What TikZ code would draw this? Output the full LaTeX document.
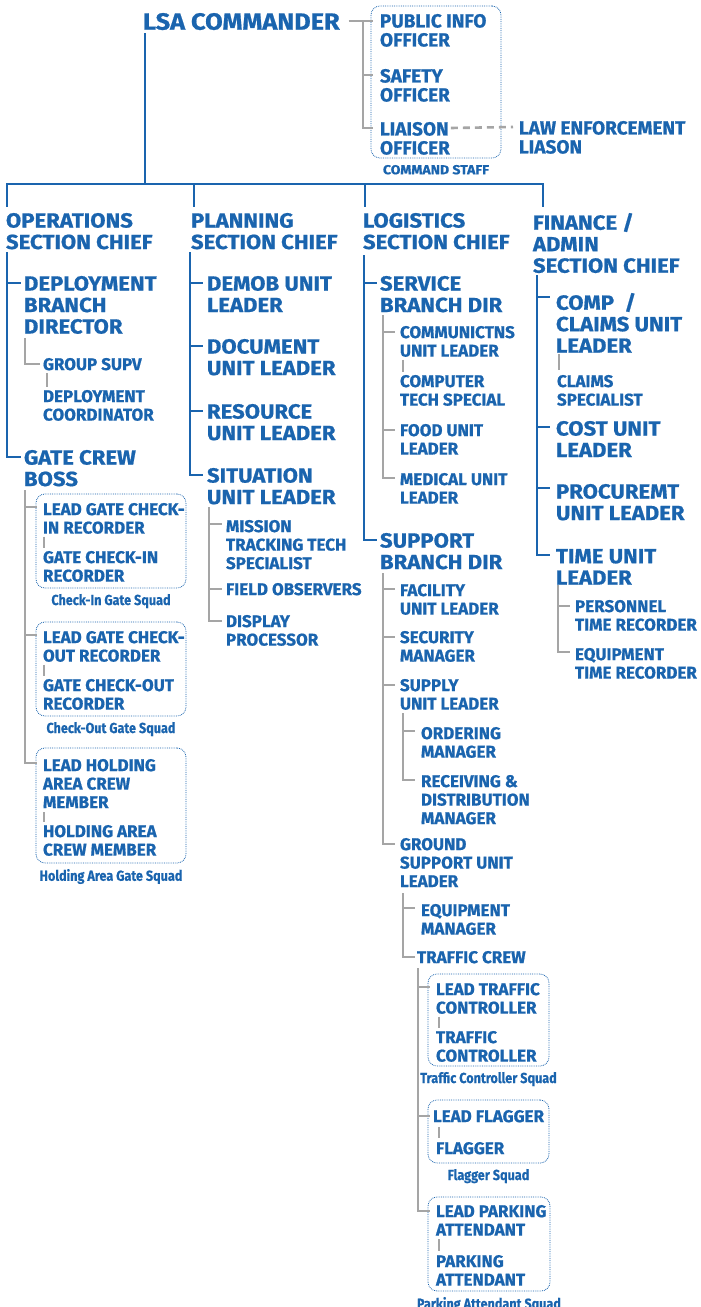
\documentclass[tikz,border=0pt]{standalone}
\usepackage{fontspec}
\setmainfont{Fira Sans}[FakeBold=0.8]
\newfontfamily\widefamily{Fira Sans}[FakeStretch=1.08, FakeBold=0.8]
\newfontfamily\squadfamily{Fira Sans}[FakeStretch=0.87, FakeBold=0.5]
\usetikzlibrary{positioning}

\definecolor{lsablue}{HTML}{1A64AE}
\definecolor{lsagray}{HTML}{A5A5A5}

\newcommand{\cmdrfont}{\widefamily\bfseries\fontsize{23.5}{26}\selectfont}
\newcommand{\chieffont}{\widefamily\bfseries\fontsize{20.5}{21.5}\selectfont}
\newcommand{\officerfont}{\bfseries\fontsize{19}{19}\selectfont}
\newcommand{\crewfont}{\bfseries\fontsize{17}{18.5}\selectfont}
\newcommand{\squadfont}{\squadfamily\bfseries\fontsize{14.5}{16}\selectfont}
\newcommand{\staffnamefont}{\widefamily\bfseries\fontsize{13}{14}\selectfont}

\begin{document}
\begin{tikzpicture}[
    x=1pt, y=-1pt,
    every node/.style={inner sep=0pt, outer sep=0pt, text=lsablue, anchor=north west, align=left},
    commander/.style={font=\cmdrfont, yshift=16pt},
    chief/.style={font=\chieffont, yshift=14pt},
    officer/.style={font=\officerfont, yshift=13pt},
    crew/.style={font=\crewfont, yshift=12pt},
    squad/.style={draw=lsablue, densely dotted, line width=0.8pt, rounded corners=9pt},
    squadname/.style={font=\squadfont, align=center},
    blueline/.style={draw=lsablue, line width=2.6pt},
    grayline/.style={draw=lsagray, line width=2.6pt}
]
    \useasboundingbox (0,0) rectangle (701,1307);

    % Commander and command staff
    \node [squad, minimum width=130pt, minimum height=152pt] (staffbox) at (371,6) {};
    \node [squadname, font=\staffnamefont, below=7pt of staffbox] (stafflbl) {COMMAND STAFF};
    \node [commander] (lsa) at (143,29) {LSA COMMANDER};
    \node [officer] (pio) at (380,27) {PUBLIC INFO\\OFFICER};
    \node [officer] (saf) at (380,82) {SAFETY\\OFFICER};
    \node [officer] (lia) at (380,135) {LIAISON\\OFFICER};
    \node [officer] (lel) at (519,134) {LAW ENFORCEMENT\\LIASON};

    % Section chiefs
    \node [chief] (ops) at (6,227) {OPERATIONS\\SECTION CHIEF};
    \node [chief] (plan) at (191,227) {PLANNING\\SECTION CHIEF};
    \node [chief] (log) at (363,227) {LOGISTICS\\SECTION CHIEF};
    \node [chief] (fin) at (533,227) {FINANCE /\\ADMIN\\SECTION CHIEF};

    % Operations
    \node [chief] (dep) at (24,290) {DEPLOYMENT\\BRANCH\\DIRECTOR};
    \node [crew] (grp) at (43,370) {GROUP SUPV};
    \node [crew] (dco) at (43,402) {DEPLOYMENT\\COORDINATOR};
    \node [chief] (gcb) at (24,464) {GATE CREW\\BOSS};

    \node [squad, minimum width=150pt, minimum height=94pt] (cisq) at (36,494) {};
    \node [crew] (lgi) at (43,515) {LEAD GATE CHECK-\\IN RECORDER};
    \node [crew] (gci) at (43,563) {GATE CHECK-IN\\RECORDER};
    \node [squadname, below=6pt of cisq] (cilbl) {Check-In Gate Squad};

    \node [squad, minimum width=150pt, minimum height=94pt] (cosq) at (36,622) {};
    \node [crew] (lgo) at (43,643) {LEAD GATE CHECK-\\OUT RECORDER};
    \node [crew] (gco) at (43,691) {GATE CHECK-OUT\\RECORDER};
    \node [squadname, below=6pt of cosq] (colbl) {Check-Out Gate Squad};

    \node [squad, minimum width=150pt, minimum height=115pt] (hasq) at (36,748) {};
    \node [crew] (lha) at (43,771) {LEAD HOLDING\\AREA CREW\\MEMBER};
    \node [crew] (hac) at (43,837) {HOLDING AREA\\CREW MEMBER};
    \node [squadname, below=6pt of hasq] (halbl) {Holding Area Gate Squad};

    % Planning
    \node [chief] (dem) at (207,290) {DEMOB UNIT\\LEADER};
    \node [chief] (doc) at (207,353) {DOCUMENT\\UNIT LEADER};
    \node [chief] (res) at (207,418) {RESOURCE\\UNIT LEADER};
    \node [chief] (sit) at (207,482) {SITUATION\\UNIT LEADER};
    \node [crew] (mtt) at (226,532) {MISSION\\TRACKING TECH\\SPECIALIST};
    \node [crew] (fob) at (226,595) {FIELD OBSERVERS};
    \node [crew] (dpr) at (226,627) {DISPLAY\\PROCESSOR};

    % Logistics
    \node [chief] (svc) at (380,290) {SERVICE\\BRANCH DIR};
    \node [crew] (com) at (400,338) {COMMUNICTNS\\UNIT LEADER};
    \node [crew] (cts) at (400,387) {COMPUTER\\TECH SPECIAL};
    \node [crew] (food) at (400,436) {FOOD UNIT\\LEADER};
    \node [crew] (med) at (400,485) {MEDICAL UNIT\\LEADER};
    \node [chief] (sup) at (380,547) {SUPPORT\\BRANCH DIR};
    \node [crew] (fac) at (400,596) {FACILITY\\UNIT LEADER};
    \node [crew] (sec) at (400,643) {SECURITY\\MANAGER};
    \node [crew] (spl) at (400,691) {SUPPLY\\UNIT LEADER};
    \node [crew] (ord) at (421,739) {ORDERING\\MANAGER};
    \node [crew] (rcv) at (421,787) {RECEIVING \&\\DISTRIBUTION\\MANAGER};
    \node [crew] (gsu) at (400,850) {GROUND\\SUPPORT UNIT\\LEADER};
    \node [crew] (eqm) at (421,916) {EQUIPMENT\\MANAGER};
    \node [crew] (tcw) at (417,963) {TRAFFIC CREW};

    \node [squad, minimum width=121pt, minimum height=92pt] (tcsq) at (428,974) {};
    \node [crew] (ltc) at (436,995) {LEAD TRAFFIC\\CONTROLLER};
    \node [crew] (tcn) at (436,1043) {TRAFFIC\\CONTROLLER};
    \node [squadname, below=6pt of tcsq] (tclbl) {Traffic Controller Squad};

    \node [squad, minimum width=121pt, minimum height=63pt] (flsq) at (428,1100) {};
    \node [crew] (lfl) at (433,1122) {LEAD FLAGGER};
    \node [crew] (flg) at (436,1154) {FLAGGER};
    \node [squadname, below=6pt of flsq] (fllbl) {Flagger Squad};

    \node [squad, minimum width=122pt, minimum height=94pt] (pasq) at (428,1197) {};
    \node [crew] (lpa) at (436,1217) {LEAD PARKING\\ATTENDANT};
    \node [crew] (pat) at (436,1267) {PARKING\\ATTENDANT};
    \node [squadname, below=6pt of pasq] (palbl) {Parking Attendant Squad};

    % Finance / admin
    \node [chief] (cmp) at (556,307) {COMP~~/\\CLAIMS UNIT\\LEADER};
    \node [crew] (cls) at (557,387) {CLAIMS\\SPECIALIST};
    \node [chief] (cst) at (556,435) {COST UNIT\\LEADER};
    \node [chief] (prc) at (556,498) {PROCUREMT\\UNIT LEADER};
    \node [chief] (tim) at (556,563) {TIME UNIT\\LEADER};
    \node [crew] (ptr) at (575,612) {PERSONNEL\\TIME RECORDER};
    \node [crew] (etr) at (575,660) {EQUIPMENT\\TIME RECORDER};

    % Spine tops
    \coordinate (bar) at (145,184);
    \coordinate (s-cmd) at (363,21);
    \coordinate (s-ops) at (7,252);
    \coordinate (s-dep) at (25,338);
    \coordinate (s-gcb) at (25,490);
    \coordinate (s-plan) at (190,252);
    \coordinate (s-sit) at (209,507);
    \coordinate (s-log) at (364,255);
    \coordinate (s-svc) at (383,315);
    \coordinate (s-sup) at (383,573);
    \coordinate (s-spl) at (403,713);
    \coordinate (s-gsu) at (403,893);
    \coordinate (s-tcw) at (418,968);
    \coordinate (s-fin) at (537,275);
    \coordinate (s-tim) at (558,585);

    % Commander to sections
    \draw [blueline] ([xshift=2pt,yshift=-20pt]lsa.north west) -- (bar);
    \draw [blueline] (bar) -| ([xshift=1pt,yshift=6pt]ops.north west);
    \draw [blueline] (bar) -| ([xshift=3pt,yshift=6pt]plan.north west);
    \draw [blueline] (bar) -| ([xshift=2pt,yshift=6pt]log.north west);
    \draw [blueline] (bar) -| ([xshift=10pt,yshift=6pt]fin.north west);

    % Command staff
    \draw [grayline] ([xshift=9pt,yshift=-8pt]lsa.north east) -- ([xshift=-7pt,yshift=-7pt]pio.north west);
    \draw [grayline] (s-cmd) |- ([xshift=-7pt,yshift=-6pt]saf.north west);
    \draw [grayline] (s-cmd) |- ([xshift=-7pt,yshift=-6pt]lia.north west);
    \draw [grayline, dash pattern=on 7pt off 5pt] ([xshift=1pt,yshift=-6pt]lia.north east) -- ([xshift=-6pt,yshift=-6pt]lel.north west);

    % Operations lines
    \draw [blueline] (s-ops) |- ([xshift=-3pt,yshift=-7pt]dep.north west);
    \draw [blueline] (s-ops) |- ([xshift=-3pt,yshift=-7pt]gcb.north west);
    \draw [grayline] (s-dep) |- ([xshift=-3pt,yshift=-6pt]grp.north west);
    \draw [grayline] ([xshift=4pt,yshift=-15pt]grp.north west) -- ([xshift=4pt,yshift=3pt]dco.north west);
    \draw [grayline] (s-gcb) |- ([xshift=-6pt,yshift=-4pt]lgi.north west);
    \draw [grayline] (s-gcb) |- ([xshift=-6pt,yshift=-4pt]lgo.north west);
    \draw [grayline] (s-gcb) |- ([xshift=-6pt,yshift=-4pt]lha.north west);
    \draw [grayline] ([xshift=1pt,yshift=-33.5pt]lgi.north west) -- ([xshift=1pt,yshift=3pt]gci.north west);
    \draw [grayline] ([xshift=1pt,yshift=-33.5pt]lgo.north west) -- ([xshift=1pt,yshift=3pt]gco.north west);
    \draw [grayline] ([xshift=1pt,yshift=-53pt]lha.north west) -- ([xshift=1pt,yshift=3pt]hac.north west);

    % Planning lines
    \draw [blueline] (s-plan) |- ([xshift=-4pt,yshift=-7pt]dem.north west);
    \draw [blueline] (s-plan) |- ([xshift=-4pt,yshift=-7pt]doc.north west);
    \draw [blueline] (s-plan) |- ([xshift=-4pt,yshift=-7pt]res.north west);
    \draw [blueline] (s-plan) |- ([xshift=-4pt,yshift=-7pt]sit.north west);
    \draw [grayline] (s-sit) |- ([xshift=-4pt,yshift=-4pt]mtt.north west);
    \draw [grayline] (s-sit) |- ([xshift=-4pt,yshift=-6pt]fob.north west);
    \draw [grayline] (s-sit) |- ([xshift=-4pt,yshift=-6pt]dpr.north west);

    % Logistics lines
    \draw [blueline] (s-log) |- ([xshift=-3pt,yshift=-7pt]svc.north west);
    \draw [blueline] (s-log) |- ([xshift=-3pt,yshift=-7pt]sup.north west);
    \draw [grayline] (s-svc) |- ([xshift=-5pt,yshift=-6pt]com.north west);
    \draw [grayline] (s-svc) |- ([xshift=-5pt,yshift=-6pt]food.north west);
    \draw [grayline] (s-svc) |- ([xshift=-5pt,yshift=-5pt]med.north west);
    \draw [grayline] ([xshift=3pt,yshift=-33.5pt]com.north west) -- ([xshift=3pt,yshift=3pt]cts.north west);
    \draw [grayline] (s-sup) |- ([xshift=-5pt,yshift=-5pt]fac.north west);
    \draw [grayline] (s-sup) |- ([xshift=-5pt,yshift=-6pt]sec.north west);
    \draw [grayline] (s-sup) |- ([xshift=-5pt,yshift=-6pt]spl.north west);
    \draw [grayline] (s-sup) |- ([xshift=-5pt,yshift=-6pt]gsu.north west);
    \draw [grayline] (s-spl) |- ([xshift=-6pt,yshift=-4pt]ord.north west);
    \draw [grayline] (s-spl) |- ([xshift=-6pt,yshift=-5pt]rcv.north west);
    \draw [grayline] (s-gsu) |- ([xshift=-6pt,yshift=-4pt]eqm.north west);
    \draw [grayline] (s-gsu) |- ([xshift=-2pt,yshift=-6pt]tcw.north west);
    \draw [grayline] (s-tcw) |- ([xshift=-6pt,yshift=-4pt]ltc.north west);
    \draw [grayline] (s-tcw) |- ([xshift=-3pt,yshift=-6pt]lfl.north west);
    \draw [grayline] (s-tcw) |- ([xshift=-6pt,yshift=-6pt]lpa.north west);
    \draw [grayline] ([xshift=3pt,yshift=-33.5pt]ltc.north west) -- ([xshift=3pt,yshift=3pt]tcn.north west);
    \draw [grayline] ([xshift=6pt,yshift=-17pt]lfl.north west) -- ([xshift=3pt,yshift=4pt]flg.north west);
    \draw [grayline] ([xshift=3pt,yshift=-34pt]lpa.north west) -- ([xshift=3pt,yshift=4pt]pat.north west);

    % Finance lines
    \draw [blueline] (s-fin) |- ([xshift=-6pt,yshift=-4pt]cmp.north west);
    \draw [blueline] (s-fin) |- ([xshift=-6pt,yshift=-6pt]cst.north west);
    \draw [blueline] (s-fin) |- ([xshift=-6pt,yshift=-4pt]prc.north west);
    \draw [blueline] (s-fin) |- ([xshift=-6pt,yshift=-6pt]tim.north west);
    \draw [grayline] ([xshift=3pt,yshift=-61pt]cmp.north west) -- ([xshift=2pt,yshift=5pt]cls.north west);
    \draw [grayline] (s-tim) |- ([xshift=-5pt,yshift=-6pt]ptr.north west);
    \draw [grayline] (s-tim) |- ([xshift=-5pt,yshift=-4pt]etr.north west);
\end{tikzpicture}
\end{document}
